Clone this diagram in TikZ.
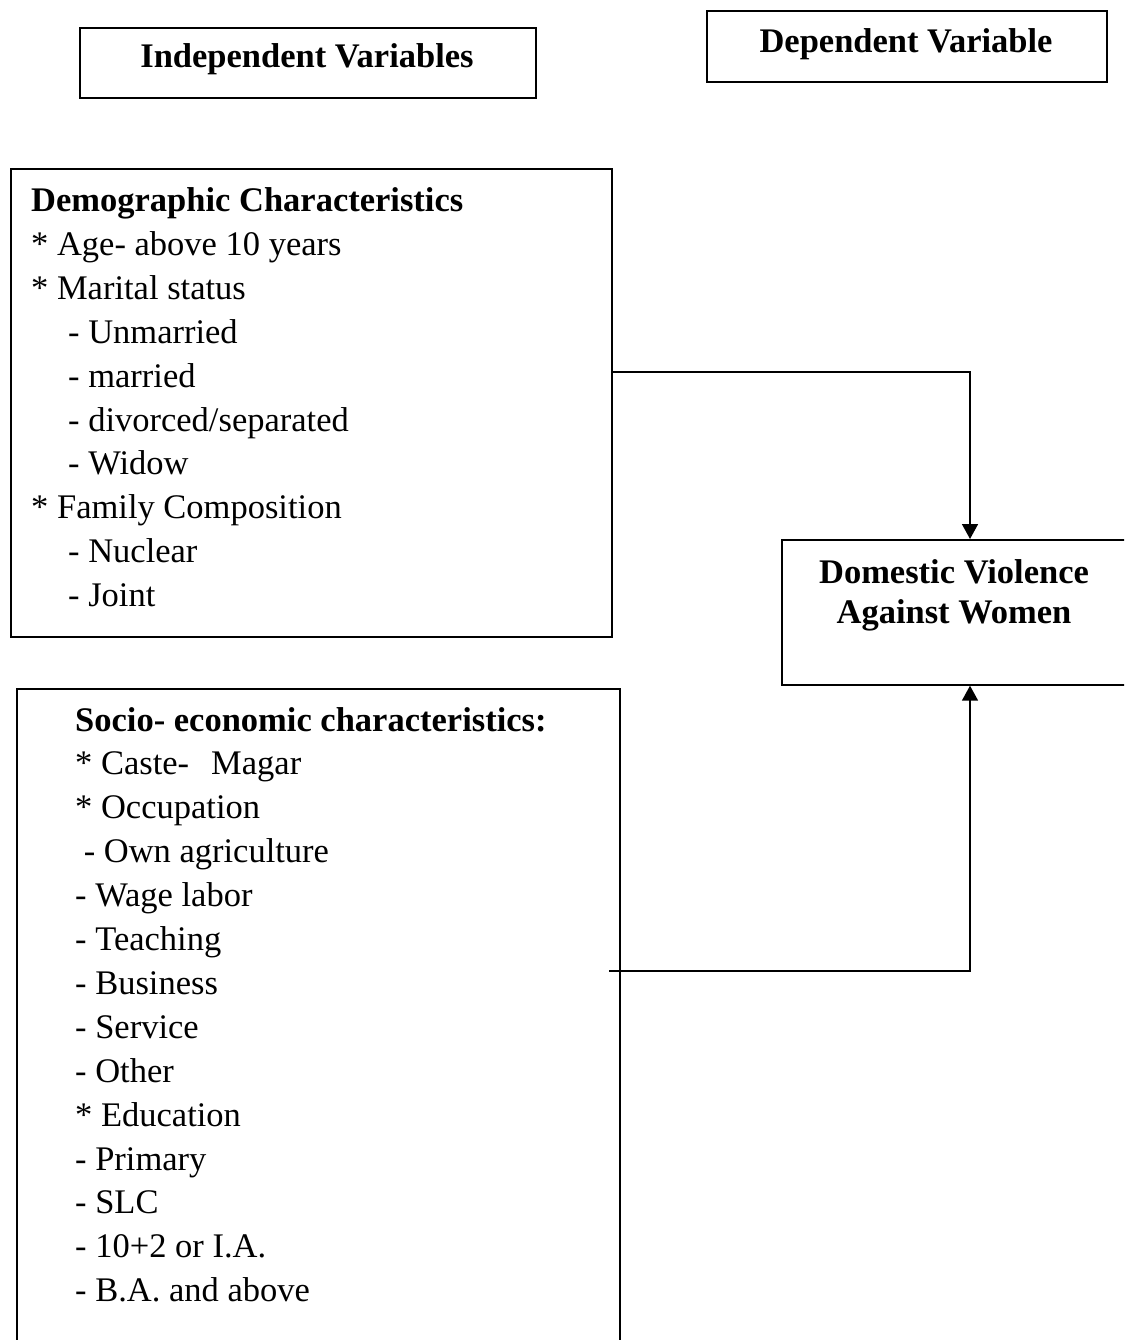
\documentclass[tikz,border=0pt]{standalone}
\usepackage{fontspec}
\setmainfont{Liberation Serif}
\usetikzlibrary{arrows.meta}
\begin{document}
\begin{tikzpicture}[x=1pt,y=-1pt,
  box/.style={draw, line width=1.7pt, rectangle, inner sep=0pt, anchor=north west},
  txt/.style={anchor=base west, inner sep=0pt, font=\fontsize{34.5}{41}\selectfont},
  hdr/.style={anchor=base west, inner sep=0pt, font=\fontsize{34.5}{41}\selectfont\bfseries},
  ctr/.style={anchor=base, inner sep=0pt, font=\fontsize{34.5}{41}\selectfont\bfseries},
  conn/.style={line width=1.6pt},
  arr/.style={conn, -{Triangle[length=15pt,width=16pt]}}
]
\clip (0,0) rectangle (1124,1340);
\fill[white] (0,0) rectangle (1124,1340);

% title boxes
\node[box, minimum width=456pt, minimum height=70pt] (iv) at (79,27) {};
\node[ctr] (ivt) at (307,68) {Independent Variables};
\node[box, minimum width=400pt, minimum height=71pt] (dep) at (706,10) {};
\node[ctr] (dept) at (906,53) {Dependent Variable};

% demographic box
\node[box, minimum width=601pt, minimum height=468pt] (demo) at (10,168) {};
\node[hdr] (d0) at (31,212) {Demographic Characteristics};
\node[txt] (d1) at (31,255.8) {* Age- above 10 years};
\node[txt] (d2) at (31,299.6) {* Marital status};
\node[txt] (d3) at (31,343.4) {\hspace*{37pt}- Unmarried};
\node[txt] (d4) at (31,387.2) {\hspace*{37pt}- married};
\node[txt] (d5) at (31,431.0) {\hspace*{37pt}- divorced/separated};
\node[txt] (d6) at (31,474.8) {\hspace*{37pt}- Widow};
\node[txt] (d7) at (31,518.6) {* Family Composition};
\node[txt] (d8) at (31,562.4) {\hspace*{37pt}- Nuclear};
\node[txt] (d9) at (31,606.2) {\hspace*{37pt}- Joint};

% socio-economic box
\node[box, minimum width=603pt, minimum height=800pt] (socio) at (16,688) {};
\node[hdr] (s0t) at (75,731) {Socio- economic characteristics:};
\node[txt] (s1) at (75,774.9) {* Caste-\hspace*{22pt}Magar};
\node[txt] (s2) at (75,818.8) {* Occupation};
\node[txt] (s3) at (75,862.7) {\hspace*{8.6pt}- Own agriculture};
\node[txt] (s4) at (75,906.6) {- Wage labor};
\node[txt] (s5) at (75,950.5) {- Teaching};
\node[txt] (s6) at (75,994.4) {- Business};
\node[txt] (s7) at (75,1038.3) {- Service};
\node[txt] (s8) at (75,1082.2) {- Other};
\node[txt] (s9) at (75,1126.1) {* Education};
\node[txt] (s10) at (75,1170.0) {- Primary};
\node[txt] (s11) at (75,1213.9) {- SLC};
\node[txt] (s12) at (75,1257.8) {- 10+2 or I.A.};
\node[txt] (s13) at (75,1301.7) {- B.A. and above};

% dependent variable box
\node[box, minimum width=346pt, minimum height=145pt] (dv) at (781,539) {};
\node[ctr] (dvt1) at (954,583) {Domestic Violence};
\node[ctr] (dvt2) at (954,623) {Against Women};

% connectors
\coordinate (j1) at (970,372);
\coordinate (j2) at (970,971);
\coordinate (sstart) at (609,971);
\draw[arr] (demo.east |- j1) -- (j1) -- (dv.north -| j1);
\draw[arr] (sstart) -- (j2) -- (dv.south -| j2);
\end{tikzpicture}
\end{document}
